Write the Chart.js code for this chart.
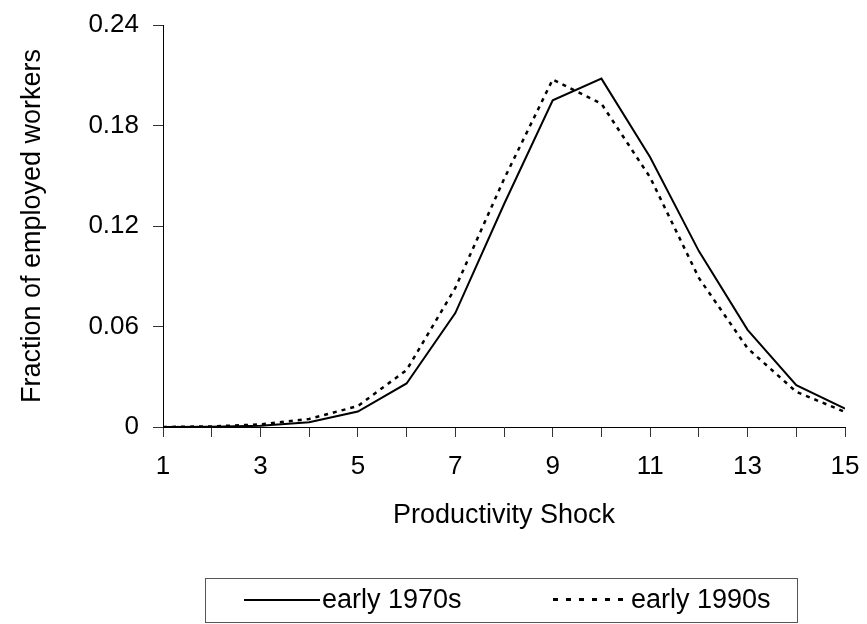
<!DOCTYPE html>
<html>
<head>
<meta charset="utf-8">
<script src="https://cdn.jsdelivr.net/npm/chart.js@4"></script>
<style>
  body { margin: 0; background: #fff; }
  #wrap { position: relative; width: 867px; height: 624px; }
  #legend {
    position: absolute; left: 205px; top: 578px; width: 593px; height: 45px;
    border: 1px solid #555; box-sizing: border-box;
    font-family: "Liberation Sans", Arial, sans-serif; font-size: 27px; color: #000;
  }
  .item { position: absolute; top: 5px; display: flex; align-items: center; }
  .sample { width: 76px; height: 2px; margin-right: 2px; background: #000; }
  .sample.dot { height: 3px; background: repeating-linear-gradient(90deg, #000 0 5px, transparent 5px 13px); }
</style>
</head>
<body>
<div id="wrap">
  <canvas id="chart" width="867" height="624"></canvas>
  <div id="legend"></div>
</div>
<script>
const shocks = [1, 2, 3, 4, 5, 6, 7, 8, 9, 10, 11, 12, 13, 14, 15];
const early1970s = [0, 0.0002, 0.0007, 0.0028, 0.0092, 0.026, 0.068, 0.133, 0.195, 0.208, 0.161, 0.105, 0.058, 0.025, 0.011];
const early1990s = [0, 0.0004, 0.0015, 0.0048, 0.0125, 0.034, 0.083, 0.148, 0.2075, 0.193, 0.149, 0.089, 0.047, 0.021, 0.009];
const yTicks = [0, 0.06, 0.12, 0.18, 0.24];

const font = "'Liberation Sans', Arial, sans-serif";
Chart.defaults.font.family = font;
Chart.defaults.color = '#000';

const series = [
  { label: 'early 1970s', data: early1970s, dash: [] },
  { label: 'early 1990s', data: early1990s, dash: [4, 5] }
];

new Chart(document.getElementById('chart'), {
  type: 'line',
  data: {
    datasets: series.map(s => ({
      label: s.label,
      data: shocks.map((x, i) => ({ x: x, y: s.data[i] })),
      borderColor: '#000',
      borderWidth: s.dash.length ? 2.5 : 2,
      borderDash: s.dash,
      pointRadius: 0,
      tension: 0,
      fill: false
    }))
  },
  options: {
    responsive: false,
    animation: false,
    layout: { padding: { top: 25, right: 22, bottom: 67, left: 0 } },
    plugins: { legend: { display: false }, tooltip: { enabled: false } },
    scales: {
      x: {
        type: 'linear', min: 1, max: 15,
        afterFit(scale) { scale.height = 130; scale.paddingLeft = 0; scale.paddingRight = 0; },
        afterBuildTicks(scale) { scale.ticks = shocks.map(v => ({ value: v })); },
        ticks: {
          autoSkip: false, maxRotation: 0, padding: 14,
          font: { size: 26 },
          callback: v => (v % 2 === 1 ? String(v) : '')
        },
        grid: { drawOnChartArea: false, tickLength: 10, color: '#333' },
        border: { color: '#000', width: 1 },
        title: { display: true, text: 'Productivity Shock', font: { size: 27 }, padding: { bottom: 25 } }
      },
      y: {
        min: 0, max: 0.24,
        afterFit(scale) { scale.width = 163; scale.paddingTop = 0; scale.paddingBottom = 0; },
        afterBuildTicks(scale) { scale.ticks = yTicks.map(v => ({ value: v })); },
        ticks: {
          padding: 14, font: { size: 26 },
          callback: v => (v === 0 ? '0' : v.toFixed(2))
        },
        grid: { drawOnChartArea: false, tickLength: 10, color: '#333' },
        border: { color: '#000', width: 1 },
        title: { display: true, text: 'Fraction of employed workers', font: { size: 27 }, padding: { top: 16 } }
      }
    }
  }
});

const legend = document.getElementById('legend');
const legendLeft = [38, 347];
series.forEach((s, i) => {
  const item = document.createElement('div');
  item.className = 'item';
  item.style.left = legendLeft[i] + 'px';
  item.innerHTML = '<span class="sample' + (s.dash.length ? ' dot' : '') + '"></span><span>' + s.label + '</span>';
  legend.appendChild(item);
});
</script>
</body>
</html>
